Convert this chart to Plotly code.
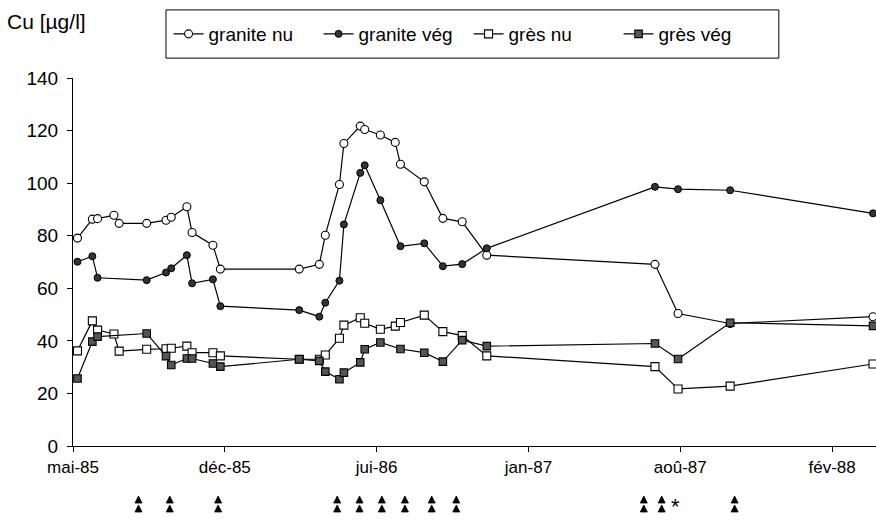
import plotly.graph_objects as go

# ---- data ----
gn_dates = ["1985-05-21", "1985-06-10", "1985-06-17", "1985-07-09", "1985-07-16", "1985-08-22",
            "1985-09-17", "1985-09-24", "1985-10-15", "1985-10-22", "1985-11-19", "1985-11-29",
            "1986-03-15", "1986-04-11", "1986-04-19", "1986-05-08", "1986-05-14", "1986-06-05",
            "1986-06-11", "1986-07-02", "1986-07-22", "1986-07-29", "1986-08-30", "1986-09-24",
            "1986-10-20", "1986-11-22", "1987-07-06", "1987-08-06", "1987-10-15", "1988-04-24"]
gn_vals = [79.1, 86.3, 86.5, 87.8, 84.7, 84.7, 85.9, 87.0, 91.0, 81.2, 76.4, 67.3,
           67.3, 69.1, 80.2, 99.5, 115.1, 121.7, 120.4, 118.3, 115.5, 107.2, 100.5, 86.6,
           85.3, 72.6, 69.1, 50.4, 46.6, 49.2]

gv_dates = ["1985-05-21", "1985-06-10", "1985-06-17", "1985-08-22", "1985-09-17", "1985-09-24",
            "1985-10-15", "1985-10-22", "1985-11-19", "1985-11-29", "1986-03-15", "1986-04-11",
            "1986-04-19", "1986-05-08", "1986-05-14", "1986-06-05", "1986-06-11", "1986-07-02",
            "1986-07-29", "1986-08-30", "1986-09-24", "1986-10-20", "1986-11-22", "1987-07-06",
            "1987-08-06", "1987-10-15", "1988-04-24"]
gv_vals = [70.1, 72.2, 64.0, 63.1, 66.0, 67.6, 72.6, 61.9, 63.4, 53.2, 51.7, 49.2,
           54.5, 62.9, 84.3, 103.9, 106.8, 93.5, 76.0, 77.1, 68.4, 69.2, 75.2, 98.6,
           97.7, 97.3, 88.5]

sn_dates = ["1985-05-21", "1985-06-10", "1985-06-17", "1985-07-09", "1985-07-16", "1985-08-22",
            "1985-09-17", "1985-09-24", "1985-10-15", "1985-10-22", "1985-11-19", "1985-11-29",
            "1986-03-15", "1986-04-11", "1986-04-19", "1986-05-08", "1986-05-14", "1986-06-05",
            "1986-06-11", "1986-07-02", "1986-07-22", "1986-07-29", "1986-08-30", "1986-09-24",
            "1986-10-20", "1986-11-22", "1987-07-06", "1987-08-06", "1987-10-15", "1988-04-24"]
sn_vals = [36.2, 47.6, 44.1, 42.6, 36.1, 36.8, 37.0, 37.2, 38.0, 35.5, 35.5, 34.3,
           33.0, 33.0, 34.6, 41.0, 46.0, 48.8, 46.7, 44.4, 45.6, 47.0, 49.8, 43.5,
           42.0, 34.3, 30.2, 21.7, 22.8, 31.2]

sv_dates = ["1985-05-21", "1985-06-10", "1985-06-17", "1985-08-22", "1985-09-17", "1985-09-24",
            "1985-10-15", "1985-10-22", "1985-11-19", "1985-11-29", "1986-03-15", "1986-04-11",
            "1986-04-19", "1986-05-08", "1986-05-14", "1986-06-05", "1986-06-11", "1986-07-02",
            "1986-07-29", "1986-08-30", "1986-09-24", "1986-10-20", "1986-11-22", "1987-07-06",
            "1987-08-06", "1987-10-15", "1988-04-24"]
sv_vals = [25.7, 39.7, 41.6, 42.8, 34.2, 30.8, 33.3, 33.3, 31.4, 30.2, 33.0, 32.4,
           28.3, 25.4, 27.9, 31.8, 36.8, 39.4, 36.9, 35.5, 32.1, 40.3, 38.0, 39.0,
           33.1, 46.9, 45.7]

event_dates = ["1985-08-11", "1985-09-22", "1985-11-26", "1986-05-05", "1986-06-04", "1986-07-04",
               "1986-08-04", "1986-09-09", "1986-10-12", "1987-06-21", "1987-07-15", "1987-10-21"]
event_tip = [0.324] * len(event_dates)
event_base = [0.203] * len(event_dates)
star_date = "1987-08-03"
star_level = 0.189

tick_dates = ["1985-05-15", "1985-12-05", "1986-06-27", "1987-01-17", "1987-08-09", "1988-02-29"]
tick_labels = ["mai-85", "déc-85", "jui-86", "jan-87", "aoû-87", "fév-88"]
y_ticks = [0, 20, 40, 60, 80, 100, 120, 140]

FONT = "Liberation Sans, Arial, sans-serif"
LINE = dict(color="black", width=1.2)

fig = go.Figure()
fig.add_trace(go.Scatter(x=gn_dates, y=gn_vals, name="granite nu", mode="lines+markers",
                         line=LINE, marker=dict(symbol="circle", size=8, color="white",
                                                line=dict(color="black", width=1.1))))
fig.add_trace(go.Scatter(x=gv_dates, y=gv_vals, name="granite vég", mode="lines+markers",
                         line=LINE, marker=dict(symbol="circle", size=7, color="#333333",
                                                line=dict(color="black", width=1))))
fig.add_trace(go.Scatter(x=sn_dates, y=sn_vals, name="grès nu", mode="lines+markers",
                         line=LINE, marker=dict(symbol="square", size=8, color="white",
                                                line=dict(color="black", width=1.1))))
fig.add_trace(go.Scatter(x=sv_dates, y=sv_vals, name="grès vég", mode="lines+markers",
                         line=LINE, marker=dict(symbol="square", size=7.5, color="#555555",
                                                line=dict(color="black", width=1.1))))
# event arrows below the time axis, on a separate hidden y axis
for lvl in (event_tip, event_base):
    fig.add_trace(go.Scatter(x=event_dates, y=lvl, mode="markers", showlegend=False,
                             yaxis="y2", hoverinfo="skip",
                             marker=dict(symbol="arrow-up", size=7, color="black",
                                         line=dict(color="black", width=0.8))))

fig.add_annotation(x=star_date, y=star_level, xref="x", yref="y2", text="*", showarrow=False,
                   font=dict(family=FONT, size=22, color="black"), xanchor="center", yanchor="middle")
fig.add_annotation(x=-0.085, y=1.127, xref="paper", yref="paper", text="Cu [µg/l]",
                   showarrow=False, xanchor="left", yanchor="middle",
                   font=dict(family=FONT, size=21, color="black"))
fig.add_shape(type="rect", xref="paper", yref="paper", x0=0.1158, x1=0.879, y0=1.045, y1=1.154,
              line=dict(color="black", width=1), fillcolor="rgba(0,0,0,0)")

fig.update_layout(
    width=876, height=520,
    margin=dict(l=73, r=0, t=78, b=0),
    paper_bgcolor="white", plot_bgcolor="white",
    font=dict(family=FONT, size=17, color="black"),
    showlegend=True,
    legend=dict(orientation="h", x=0.119, xanchor="left", y=1.0995, yanchor="middle",
                font=dict(family=FONT, size=19, color="black"), borderwidth=0,
                bgcolor="rgba(0,0,0,0)", entrywidth=105, entrywidthmode="pixels",
                itemclick=False),
    xaxis=dict(type="date", range=["1985-05-15", "1988-04-28"], tickmode="array",
               tickvals=tick_dates, ticktext=tick_labels, showgrid=False, zeroline=False,
               showline=True, linecolor="black", linewidth=1.2, ticks="outside",
               ticklen=5, tickcolor="black", tickfont=dict(size=17), anchor="y",
               automargin=False),
    yaxis=dict(domain=[0.1674, 1.0], range=[0, 140], tickmode="array", tickvals=y_ticks,
               showgrid=False, zeroline=False, showline=True, linecolor="black",
               linewidth=1.2, ticks="outside", ticklen=5, tickcolor="black",
               tickfont=dict(size=19), ticklabelstandoff=5, automargin=False),
    yaxis2=dict(domain=[0.0, 0.1674], range=[0, 1], visible=False, fixedrange=True,
                automargin=False),
)

fig.write_html("out.html")
